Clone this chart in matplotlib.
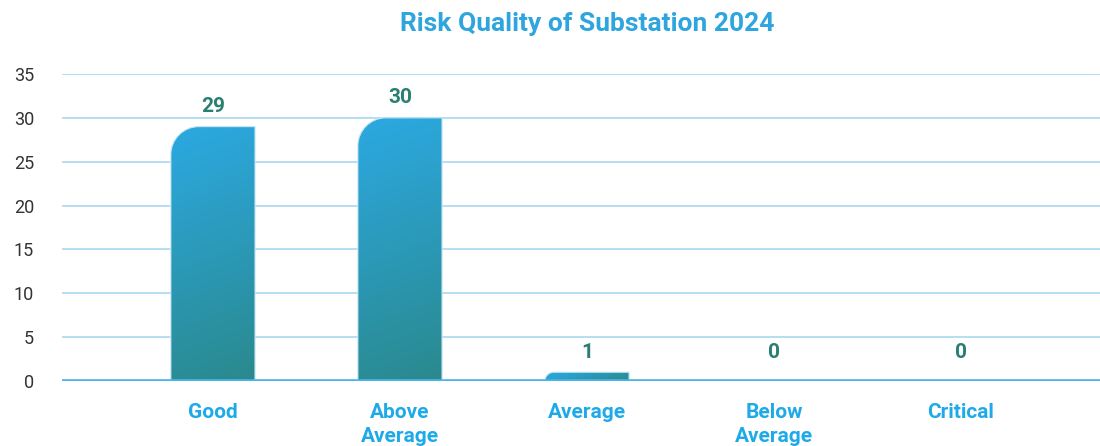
import numpy as np
import matplotlib
matplotlib.use('Agg')
import matplotlib.pyplot as plt
from matplotlib.path import Path
from matplotlib.patches import PathPatch
from matplotlib.colors import to_rgb

categories = ['Good', 'Above\nAverage', 'Average', 'Below\nAverage', 'Critical']
values = [29, 30, 1, 0, 0]
yticks = [0, 5, 10, 15, 20, 25, 30, 35]
title = 'Risk Quality of Substation 2024'

plt.rcParams['font.family'] = ['Roboto', 'DejaVu Sans']

top_col = np.array(to_rgb('#2ca9e2'))
bot_col = np.array(to_rgb('#2a898d'))

fig = plt.figure(figsize=(11, 4.46), dpi=100)
ax = fig.add_axes([62 / 1100, 1 - 381 / 446, 1 - 62 / 1100, (381 - 74) / 446])
ax.set_xlim(-0.807, 4.743)
ax.set_ylim(0, 35)

for s in ax.spines.values():
    s.set_visible(False)
ax.set_yticks(yticks)
ax.yaxis.grid(True, color='#a9d9ef', lw=1.2, zorder=0)
ax.set_axisbelow(True)
ax.axhline(0, color='#4cb5e7', lw=2.6, zorder=5)
ax.tick_params(axis='both', length=0)
ax.tick_params(axis='y', pad=20, labelsize=13, labelcolor='#333333')
ax.set_xticks(range(len(categories)))
ax.set_xticklabels(categories, fontsize=15, fontweight='bold', color='#1eaae9',
                   linespacing=1.35, va='top')
ax.tick_params(axis='x', pad=15.5)

# pixel scale of the data units, for the gradient and corner radius
p0 = ax.transData.transform((0, 0))
p1 = ax.transData.transform((1, 1))
sx, sy = p1 - p0

bw = 0.45
ang = np.deg2rad(20)
for i, v in enumerate(values):
    if v > 0:
        x0, x1 = i - bw / 2, i + bw / 2
        w_px, h_px = bw * sx, v * sy
        r_px = min(28, h_px, w_px)
        rx, ry = r_px / sx, r_px / sy
        k = 0.5523
        verts = [(x0, 0), (x0, v - ry),
                 (x0, v - ry + k * ry), (x0 + rx - k * rx, v), (x0 + rx, v),
                 (x1, v), (x1, 0), (x0, 0)]
        codes = [Path.MOVETO, Path.LINETO, Path.CURVE4, Path.CURVE4, Path.CURVE4,
                 Path.LINETO, Path.LINETO, Path.CLOSEPOLY]
        patch = PathPatch(Path(verts, codes), facecolor='none', edgecolor='#c4e5f4',
                          lw=0.8, zorder=3)
        ax.add_patch(patch)
        ny, nx = int(max(h_px, 2)), int(w_px)
        gx, gy = np.meshgrid(np.linspace(0, w_px, nx), np.linspace(0, h_px, ny))
        t = (gx * np.sin(ang) + gy * np.cos(ang)) / (w_px * np.sin(ang) + h_px * np.cos(ang))
        img = top_col[None, None, :] * (1 - t[..., None]) + bot_col[None, None, :] * t[..., None]
        im = ax.imshow(img, extent=(x0, x1, 0, v), origin='upper', aspect='auto',
                       interpolation='bilinear', zorder=2)
        im.set_clip_path(patch)
    ax.annotate(str(v), (i, max(v, 1)), xytext=(0, 7.5), textcoords='offset points',
                ha='center', va='bottom', fontsize=15, fontweight='bold', color='#2a7f72')

fig.text(587 / 1100, 1 - 24 / 446, title, ha='center', va='center', fontsize=19,
         fontweight='bold', color='#2ea5de')

fig.savefig('out.png', dpi=100)
